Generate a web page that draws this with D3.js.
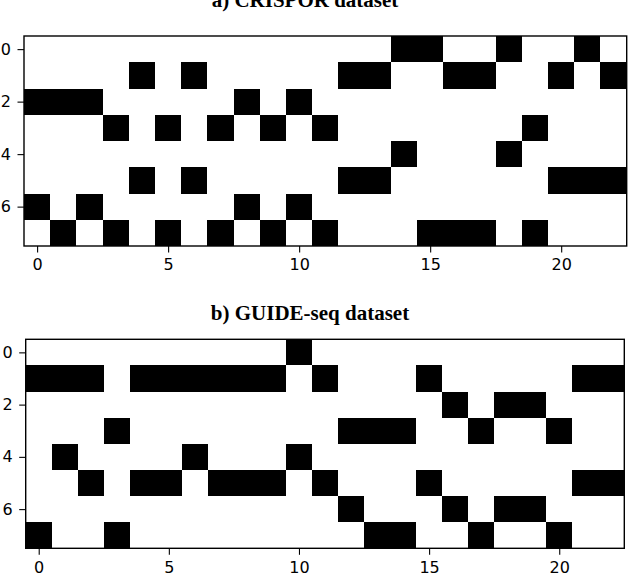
<!DOCTYPE html>
<html>
<head>
<meta charset="utf-8">
<script src="https://cdn.jsdelivr.net/npm/d3@7"></script>
<style>
  html, body { margin: 0; padding: 0; background: #fff; }
  svg { display: block; }
</style>
</head>
<body>
<svg id="chart" width="630" height="576"></svg>
<script>
// ---- data ----
const titleA = "a) CRISPOR dataset";
const titleB = "b) GUIDE-seq dataset";
const xTicks = [0, 5, 10, 15, 20];
const yTicks = [0, 2, 4, 6];
const nCols = 23;
const nRows = 8;

const crisporGrid = [
  [0,0,0,0,0,0,0,0,0,0,0,0,0,0,1,1,0,0,1,0,0,1,0],
  [0,0,0,0,1,0,1,0,0,0,0,0,1,1,0,0,1,1,0,0,1,0,1],
  [1,1,1,0,0,0,0,0,1,0,1,0,0,0,0,0,0,0,0,0,0,0,0],
  [0,0,0,1,0,1,0,1,0,1,0,1,0,0,0,0,0,0,0,1,0,0,0],
  [0,0,0,0,0,0,0,0,0,0,0,0,0,0,1,0,0,0,1,0,0,0,0],
  [0,0,0,0,1,0,1,0,0,0,0,0,1,1,0,0,0,0,0,0,1,1,1],
  [1,0,1,0,0,0,0,0,1,0,1,0,0,0,0,0,0,0,0,0,0,0,0],
  [0,1,0,1,0,1,0,1,0,1,0,1,0,0,0,1,1,1,0,1,0,0,0]
];

const guideSeqGrid = [
  [0,0,0,0,0,0,0,0,0,0,1,0,0,0,0,0,0,0,0,0,0,0,0],
  [1,1,1,0,1,1,1,1,1,1,0,1,0,0,0,1,0,0,0,0,0,1,1],
  [0,0,0,0,0,0,0,0,0,0,0,0,0,0,0,0,1,0,1,1,0,0,0],
  [0,0,0,1,0,0,0,0,0,0,0,0,1,1,1,0,0,1,0,0,1,0,0],
  [0,1,0,0,0,0,1,0,0,0,1,0,0,0,0,0,0,0,0,0,0,0,0],
  [0,0,1,0,1,1,0,1,1,1,0,1,0,0,0,1,0,0,0,0,0,1,1],
  [0,0,0,0,0,0,0,0,0,0,0,0,1,0,0,0,1,0,1,1,0,0,0],
  [1,0,0,1,0,0,0,0,0,0,0,0,0,1,1,0,0,1,0,0,1,0,0]
];

// ---- drawing ----
const svg = d3.select("#chart");

const panels = [
  { title: titleA, grid: crisporGrid, x0: 24, x1: 626.7, y0: 36, y1: 246, tx: 305, ty: 7 },
  { title: titleB, grid: guideSeqGrid, x0: 25.7, x1: 624.3, y0: 339.3, y1: 548.3, tx: 310, ty: 320 }
];

const color = d3.scaleOrdinal().domain([0, 1]).range(["#ffffff", "#000000"]);

panels.forEach(p => {
  const x = d3.scaleLinear().domain([-0.5, nCols - 0.5]).range([p.x0, p.x1]);
  const y = d3.scaleLinear().domain([-0.5, nRows - 0.5]).range([p.y0, p.y1]);

  const cells = [];
  p.grid.forEach((row, r) => row.forEach((v, c) => cells.push({ r, c, v })));

  const g = svg.append("g");
  g.selectAll("rect.cell")
    .data(cells)
    .join("rect")
    .attr("class", "cell")
    .attr("x", d => x(d.c - 0.5))
    .attr("y", d => y(d.r - 0.5))
    .attr("width", d => x(d.c + 0.5) - x(d.c - 0.5) + 0.3)
    .attr("height", d => y(d.r + 0.5) - y(d.r - 0.5) + 0.3)
    .attr("fill", d => color(d.v))
    .attr("shape-rendering", "crispEdges");

  // frame
  g.append("rect")
    .attr("x", p.x0).attr("y", p.y0)
    .attr("width", p.x1 - p.x0).attr("height", p.y1 - p.y0)
    .attr("fill", "none").attr("stroke", "#000").attr("stroke-width", 1.4);

  const xAxis = d3.axisBottom(x).tickValues(xTicks).tickSize(6.5).tickPadding(6.5).tickSizeOuter(0);
  const yAxis = d3.axisLeft(y).tickValues(yTicks).tickSize(6.5).tickPadding(6.5).tickSizeOuter(0);

  const gx = g.append("g").attr("transform", `translate(0,${p.y1})`).call(xAxis);
  const gy = g.append("g").attr("transform", `translate(${p.x0},0)`).call(yAxis);
  [gx, gy].forEach(a => {
    a.select(".domain").remove();
    a.selectAll(".tick line").attr("stroke", "#000").attr("stroke-width", 1.1);
    a.selectAll(".tick text")
      .attr("fill", "#000")
      .style("font-family", "'DejaVu Sans', sans-serif")
      .style("font-size", "16px");
  });

  svg.append("text")
    .attr("x", p.tx).attr("y", p.ty)
    .attr("text-anchor", "middle")
    .style("font-family", "'Liberation Serif', 'Times New Roman', serif")
    .style("font-weight", "bold")
    .style("font-size", "21px")
    .attr("fill", "#000")
    .text(p.title);
});
</script>
</body>
</html>
